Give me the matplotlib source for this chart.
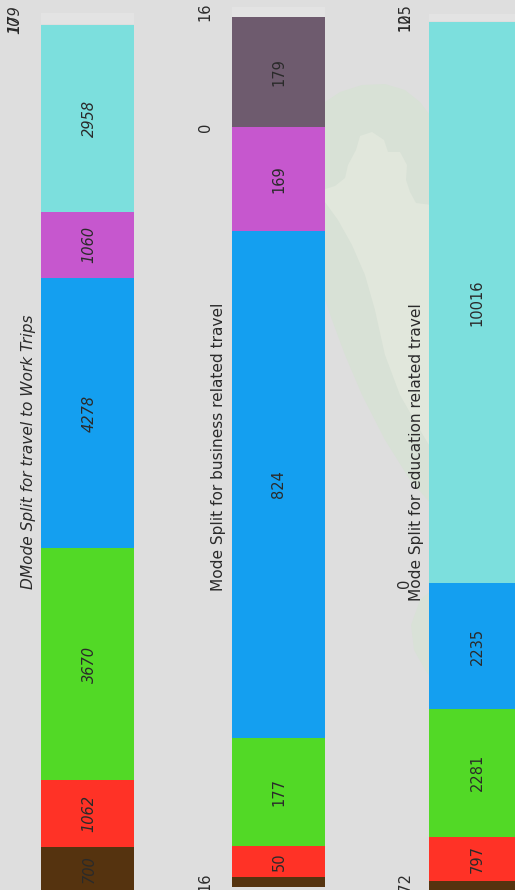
import matplotlib
matplotlib.use("Agg")
import matplotlib.pyplot as plt
from matplotlib.patches import Polygon

# ── Data ──────────────────────────────────────
modes = ["brown", "red", "green", "blue", "purple", "teal", "mauve", "light"]
work_trips = [700, 1062, 3670, 4278, 1060, 2958, 10, 179]
business = [16, 50, 177, 824, 169, 0, 179, 16]
education = [172, 797, 2281, 2235, 0, 10016, 10, 125]

titles = ["DMode Split for travel to Work Trips",
          "Mode Split for business related travel",
          "Mode Split for education related travel"]

colors = ["#55330f", "#ff3226", "#52d926", "#149ff0",
          "#c657ce", "#7cdfdd", "#6e5b6e", "#e3e3e3"]

# ── Layout (pixels) ───────────────────────────
W, H = 515, 890
BG = "#dedede"
BAR_W = 93
panels = [
    # values, bar left, top, bottom, inner label shift, small label x, title x, title y, font style
    (work_trips, 41, 13, 891, 1.5, 15, 29, 452, "italic"),
    (business, 232, 7, 887, 0.5, 205, 219, 447, "normal"),
    (education, 429, 14, 891, 1.5, 405, 417, 452, "normal"),
]

fig = plt.figure(figsize=(W / 100, H / 100), dpi=100, facecolor=BG)

# ── Faint map watermark behind the bars ───────
bg_ax = fig.add_axes([0, 0, 1, 1], zorder=0)
bg_ax.set_xlim(0, W)
bg_ax.set_ylim(H, 0)
bg_ax.axis("off")
halo = [(322, 104), (340, 92), (362, 85), (385, 84), (405, 90), (420, 102), (432, 118),
        (432, 505), (410, 480), (385, 440), (362, 395), (345, 355), (332, 320), (322, 290)]
halo_low = [(432, 590), (420, 600), (411, 625), (414, 650), (424, 668), (432, 680)]
inner = [(322, 190), (335, 186), (345, 178), (348, 165), (356, 150), (360, 136), (372, 132),
         (384, 140), (388, 152), (400, 152), (407, 165), (406, 180), (410, 192), (416, 203),
         (432, 205), (432, 450), (420, 430), (400, 395), (385, 355), (375, 310),
         (365, 275), (352, 245), (338, 220), (322, 198)]
bg_ax.add_patch(Polygon(halo, fc="#d8e1d6", ec="none"))
bg_ax.add_patch(Polygon(halo_low, fc="#d9e1d7", ec="none"))
bg_ax.add_patch(Polygon(inner, fc="#e1e7dc", ec="none"))

# ── Stacked bars ──────────────────────────────
for title, panel in zip(titles, panels):
    values, left, top, bottom, shift, small_x, title_x, title_y, style = panel
    ax = fig.add_axes([left / W, 1 - bottom / H, BAR_W / W, (bottom - top) / H], zorder=1)
    ax.patch.set_alpha(0)
    ax.axis("off")
    total = sum(values)
    ax.set_xlim(-0.5, 0.5)
    ax.set_ylim(0, total)

    base = 0
    for val, col in zip(values, colors):
        # segments under a pixel thick do not show, only their number does
        if val / total > 0.001:
            ax.bar(0, val, width=1, bottom=base, color=col, linewidth=0)
        mid = base + val / 2
        # small segments get their number outside the bar
        if val / total < 0.02:
            x_lab = (small_x - left - BAR_W / 2) / BAR_W
        else:
            x_lab = shift / BAR_W
        ax.text(x_lab, mid, str(val), rotation=90, ha="center", va="center",
                fontsize=10.5, color="#2a2a2a", style=style, clip_on=False)
        base += val

    fig.text(title_x / W, 1 - title_y / H, title, rotation=90, ha="center", va="center",
             fontsize=11.1, color="#2a2a2a", style=style, zorder=5)

fig.savefig("out.png", dpi=100, facecolor=BG)
plt.close()
